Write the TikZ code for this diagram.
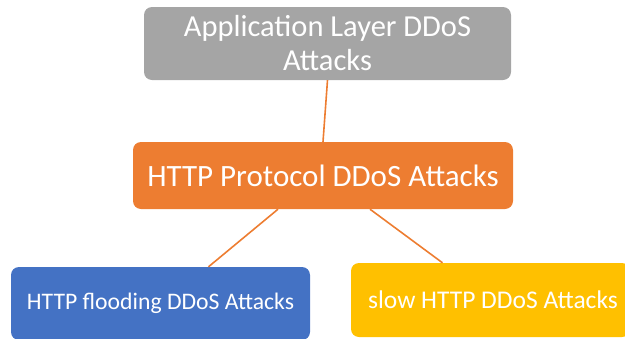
\documentclass[tikz,border=0pt]{standalone}
\usepackage{fontspec}
\setmainfont{Carlito}
\definecolor{boxgray}{HTML}{A5A5A5}
\definecolor{boxorange}{HTML}{ED7D31}
\definecolor{boxblue}{HTML}{4472C4}
\definecolor{boxyellow}{HTML}{FFC000}
\begin{document}
\begin{tikzpicture}[x=1pt, y=1pt,
    box/.style={rounded corners=8pt, inner sep=0pt, text=white, align=center},
    link/.style={boxorange, line width=1.6pt}]
    \useasboundingbox (0,0) rectangle (625,-338);
    \node[box, fill=boxgray, minimum width=367pt, minimum height=73pt, font=\fontsize{30.5}{34}\selectfont] (app) at (327.5,-43.5) {Application Layer DDoS\\Attacks};
    \node[box, fill=boxorange, minimum width=380pt, minimum height=67pt, font=\fontsize{31}{36}\selectfont] (http) at (323,-175.5) {HTTP Protocol DDoS Attacks};
    \node[box, fill=boxblue, minimum width=299pt, minimum height=73pt, font=\fontsize{23.7}{28}\selectfont] (flood) at (160.5,-303.5) {HTTP flooding DDoS Attacks};
    \node[box, fill=boxyellow, minimum width=279pt, minimum height=74pt, font=\fontsize{25.5}{30}\selectfont] (slow) at (490.5,-300) {\hspace*{5pt}slow HTTP DDoS Attacks};
    \draw[link] (app.south) -- (http.north);
    \draw[link] ([xshift=-45pt]http.south) -- ([xshift=48pt]flood.north);
    \draw[link] ([xshift=47pt]http.south) -- ([xshift=-48pt]slow.north);
\end{tikzpicture}
\end{document}
